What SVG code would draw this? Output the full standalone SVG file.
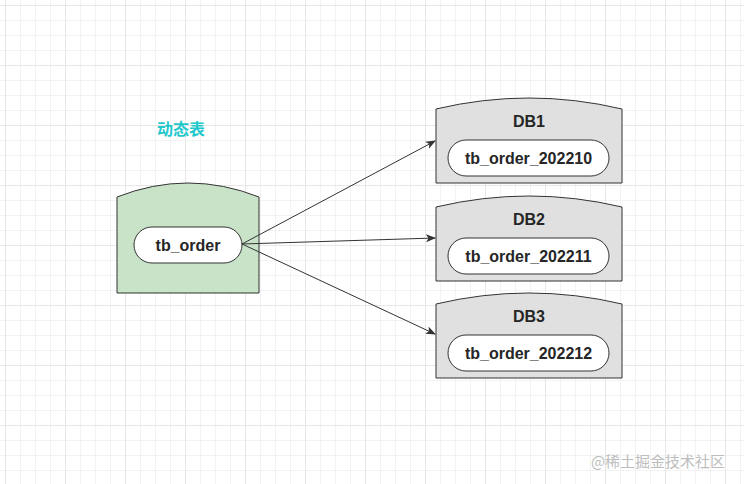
<svg xmlns="http://www.w3.org/2000/svg" width="744" height="484" viewBox="0 0 744 484">
<defs>
<pattern id="minor" x="5" y="5" width="15" height="15" patternUnits="userSpaceOnUse">
<path d="M15 0H0V15" fill="none" stroke="#e8e8e8" stroke-width="1"/>
</pattern>
<pattern id="major" x="5" y="5" width="60" height="60" patternUnits="userSpaceOnUse">
<path d="M60 0H0V60" fill="none" stroke="#dcdcdc" stroke-width="1"/>
</pattern>
<marker id="arr" viewBox="0 0 10 10" refX="9" refY="5" markerWidth="10" markerHeight="10" markerUnits="userSpaceOnUse" orient="auto">
<path d="M0 1L10 5L0 9L2.5 5Z" fill="#333"/>
</marker>
</defs>
<style>
.box{stroke:#333;stroke-width:1}
.pill{fill:#fff;stroke:#333;stroke-width:1}
.t{font-family:"Liberation Sans",Arial,sans-serif;font-weight:bold;fill:#262626;text-anchor:middle;dominant-baseline:central}
.edge{stroke:#333;stroke-width:1;fill:none;marker-end:url(#arr)}
</style>
<rect width="744" height="484" fill="#fff"/>
<rect width="744" height="484" fill="url(#minor)"/>
<rect width="744" height="484" fill="url(#major)"/>
<text x="181" y="128" font-family="'Noto Sans CJK SC',sans-serif" font-weight="bold" font-size="16" fill="#1ec8cc" text-anchor="middle" dominant-baseline="central">动态表</text>
<g id="src">
<path class="box" fill="#c8e3c8" d="M117 197Q188 169 259 197V293H117Z"/>
<rect class="pill" x="134" y="227" width="108" height="36" rx="18"/>
<text class="t" x="188" y="245" font-size="16">tb_order</text>
</g>
<g id="db1">
<path class="box" fill="#e0e0e0" d="M436 109Q529 87 622 109V183H436Z"/>
<text class="t" x="529" y="121" font-size="16">DB1</text>
<rect class="pill" x="448" y="140" width="161" height="36" rx="18"/>
<text class="t" x="528.5" y="158" font-size="16">tb_order_202210</text>
</g>
<g id="db2">
<path class="box" fill="#e0e0e0" d="M436 207Q529 185 622 207V281H436Z"/>
<text class="t" x="529" y="219" font-size="16">DB2</text>
<rect class="pill" x="448" y="238" width="161" height="36" rx="18"/>
<text class="t" x="528.5" y="256" font-size="16">tb_order_202211</text>
</g>
<g id="db3">
<path class="box" fill="#e0e0e0" d="M436 304Q529 282 622 304V378H436Z"/>
<text class="t" x="529" y="316" font-size="16">DB3</text>
<rect class="pill" x="448" y="335" width="161" height="36" rx="18"/>
<text class="t" x="528.5" y="353" font-size="16">tb_order_202212</text>
</g>
<g id="edges">
<path class="edge" d="M242 244L435 141"/>
<path class="edge" d="M242 244L435 238"/>
<path class="edge" d="M242 244L435 334"/>
</g>
<text x="658" y="460" font-family="'Noto Sans CJK SC',sans-serif" font-size="15" fill="#bdbdbd" text-anchor="middle" dominant-baseline="central">@稀土掘金技术社区</text>
</svg>
